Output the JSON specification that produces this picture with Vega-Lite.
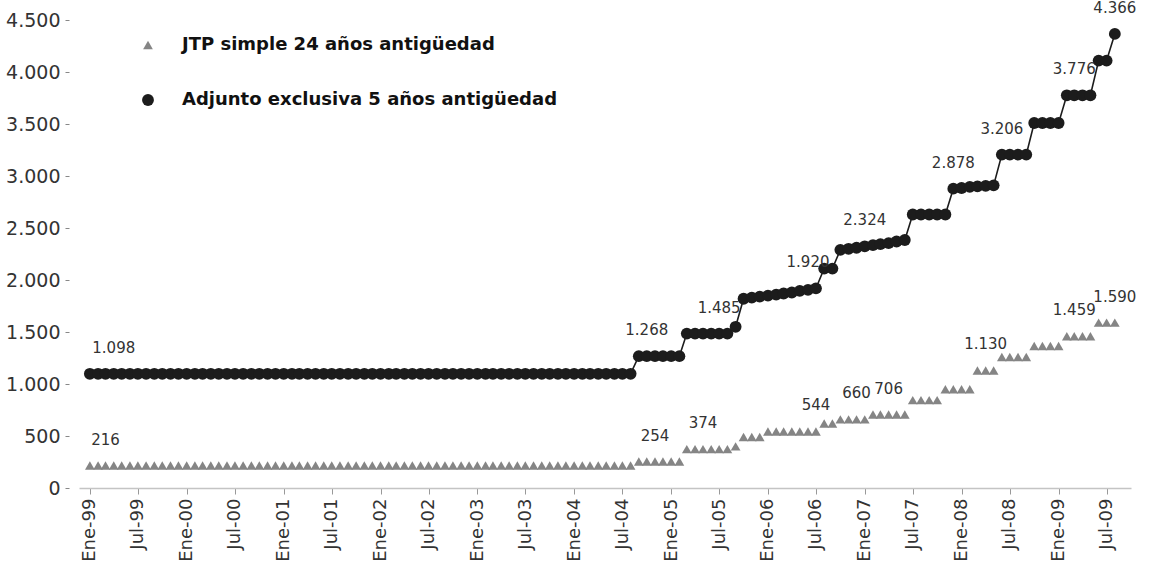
{
  "$schema": "https://vega.github.io/schema/vega-lite/v6.json",
  "width": 1052,
  "height": 468,
  "autosize": {"type": "none"},
  "padding": {"left": 79, "top": 20, "right": 28, "bottom": 87},
  "background": "white",
  "config": {
    "view": {"stroke": null},
    "font": "DejaVu Sans",
    "locale": {
      "number": {"decimal": ",", "thousands": ".", "grouping": [3], "currency": ["$", ""]},
      "time": {
        "dateTime": "%A, %e de %B de %Y, %X",
        "date": "%d/%m/%Y",
        "time": "%H:%M:%S",
        "periods": ["AM", "PM"],
        "days": ["domingo", "lunes", "martes", "miércoles", "jueves", "viernes", "sábado"],
        "shortDays": ["dom", "lun", "mar", "mié", "jue", "vie", "sáb"],
        "months": ["enero", "febrero", "marzo", "abril", "mayo", "junio", "julio", "agosto", "septiembre", "octubre", "noviembre", "diciembre"],
        "shortMonths": ["Ene", "Feb", "Mar", "Abr", "May", "Jun", "Jul", "Ago", "Sep", "Oct", "Nov", "Dic"]
      }
    }
  },
  "datasets": {
    "salarios": [
      {"fecha": "1999-01-01", "jtp": 216, "adj": 1098},
      {"fecha": "1999-02-01", "jtp": 216, "adj": 1098},
      {"fecha": "1999-03-01", "jtp": 216, "adj": 1098},
      {"fecha": "1999-04-01", "jtp": 216, "adj": 1098},
      {"fecha": "1999-05-01", "jtp": 216, "adj": 1098},
      {"fecha": "1999-06-01", "jtp": 216, "adj": 1098},
      {"fecha": "1999-07-01", "jtp": 216, "adj": 1098},
      {"fecha": "1999-08-01", "jtp": 216, "adj": 1098},
      {"fecha": "1999-09-01", "jtp": 216, "adj": 1098},
      {"fecha": "1999-10-01", "jtp": 216, "adj": 1098},
      {"fecha": "1999-11-01", "jtp": 216, "adj": 1098},
      {"fecha": "1999-12-01", "jtp": 216, "adj": 1098},
      {"fecha": "2000-01-01", "jtp": 216, "adj": 1098},
      {"fecha": "2000-02-01", "jtp": 216, "adj": 1098},
      {"fecha": "2000-03-01", "jtp": 216, "adj": 1098},
      {"fecha": "2000-04-01", "jtp": 216, "adj": 1098},
      {"fecha": "2000-05-01", "jtp": 216, "adj": 1098},
      {"fecha": "2000-06-01", "jtp": 216, "adj": 1098},
      {"fecha": "2000-07-01", "jtp": 216, "adj": 1098},
      {"fecha": "2000-08-01", "jtp": 216, "adj": 1098},
      {"fecha": "2000-09-01", "jtp": 216, "adj": 1098},
      {"fecha": "2000-10-01", "jtp": 216, "adj": 1098},
      {"fecha": "2000-11-01", "jtp": 216, "adj": 1098},
      {"fecha": "2000-12-01", "jtp": 216, "adj": 1098},
      {"fecha": "2001-01-01", "jtp": 216, "adj": 1098},
      {"fecha": "2001-02-01", "jtp": 216, "adj": 1098},
      {"fecha": "2001-03-01", "jtp": 216, "adj": 1098},
      {"fecha": "2001-04-01", "jtp": 216, "adj": 1098},
      {"fecha": "2001-05-01", "jtp": 216, "adj": 1098},
      {"fecha": "2001-06-01", "jtp": 216, "adj": 1098},
      {"fecha": "2001-07-01", "jtp": 216, "adj": 1098},
      {"fecha": "2001-08-01", "jtp": 216, "adj": 1098},
      {"fecha": "2001-09-01", "jtp": 216, "adj": 1098},
      {"fecha": "2001-10-01", "jtp": 216, "adj": 1098},
      {"fecha": "2001-11-01", "jtp": 216, "adj": 1098},
      {"fecha": "2001-12-01", "jtp": 216, "adj": 1098},
      {"fecha": "2002-01-01", "jtp": 216, "adj": 1098},
      {"fecha": "2002-02-01", "jtp": 216, "adj": 1098},
      {"fecha": "2002-03-01", "jtp": 216, "adj": 1098},
      {"fecha": "2002-04-01", "jtp": 216, "adj": 1098},
      {"fecha": "2002-05-01", "jtp": 216, "adj": 1098},
      {"fecha": "2002-06-01", "jtp": 216, "adj": 1098},
      {"fecha": "2002-07-01", "jtp": 216, "adj": 1098},
      {"fecha": "2002-08-01", "jtp": 216, "adj": 1098},
      {"fecha": "2002-09-01", "jtp": 216, "adj": 1098},
      {"fecha": "2002-10-01", "jtp": 216, "adj": 1098},
      {"fecha": "2002-11-01", "jtp": 216, "adj": 1098},
      {"fecha": "2002-12-01", "jtp": 216, "adj": 1098},
      {"fecha": "2003-01-01", "jtp": 216, "adj": 1098},
      {"fecha": "2003-02-01", "jtp": 216, "adj": 1098},
      {"fecha": "2003-03-01", "jtp": 216, "adj": 1098},
      {"fecha": "2003-04-01", "jtp": 216, "adj": 1098},
      {"fecha": "2003-05-01", "jtp": 216, "adj": 1098},
      {"fecha": "2003-06-01", "jtp": 216, "adj": 1098},
      {"fecha": "2003-07-01", "jtp": 216, "adj": 1098},
      {"fecha": "2003-08-01", "jtp": 216, "adj": 1098},
      {"fecha": "2003-09-01", "jtp": 216, "adj": 1098},
      {"fecha": "2003-10-01", "jtp": 216, "adj": 1098},
      {"fecha": "2003-11-01", "jtp": 216, "adj": 1098},
      {"fecha": "2003-12-01", "jtp": 216, "adj": 1098},
      {"fecha": "2004-01-01", "jtp": 216, "adj": 1098},
      {"fecha": "2004-02-01", "jtp": 216, "adj": 1098},
      {"fecha": "2004-03-01", "jtp": 216, "adj": 1098},
      {"fecha": "2004-04-01", "jtp": 216, "adj": 1098},
      {"fecha": "2004-05-01", "jtp": 216, "adj": 1098},
      {"fecha": "2004-06-01", "jtp": 216, "adj": 1098},
      {"fecha": "2004-07-01", "jtp": 216, "adj": 1098},
      {"fecha": "2004-08-01", "jtp": 216, "adj": 1098},
      {"fecha": "2004-09-01", "jtp": 254, "adj": 1268},
      {"fecha": "2004-10-01", "jtp": 254, "adj": 1268},
      {"fecha": "2004-11-01", "jtp": 254, "adj": 1268},
      {"fecha": "2004-12-01", "jtp": 254, "adj": 1268},
      {"fecha": "2005-01-01", "jtp": 254, "adj": 1268},
      {"fecha": "2005-02-01", "jtp": 254, "adj": 1268},
      {"fecha": "2005-03-01", "jtp": 374, "adj": 1485},
      {"fecha": "2005-04-01", "jtp": 374, "adj": 1485},
      {"fecha": "2005-05-01", "jtp": 374, "adj": 1485},
      {"fecha": "2005-06-01", "jtp": 374, "adj": 1485},
      {"fecha": "2005-07-01", "jtp": 374, "adj": 1485},
      {"fecha": "2005-08-01", "jtp": 374, "adj": 1485},
      {"fecha": "2005-09-01", "jtp": 400, "adj": 1550},
      {"fecha": "2005-10-01", "jtp": 490, "adj": 1820},
      {"fecha": "2005-11-01", "jtp": 490, "adj": 1830},
      {"fecha": "2005-12-01", "jtp": 490, "adj": 1840},
      {"fecha": "2006-01-01", "jtp": 544, "adj": 1850},
      {"fecha": "2006-02-01", "jtp": 544, "adj": 1860},
      {"fecha": "2006-03-01", "jtp": 544, "adj": 1870},
      {"fecha": "2006-04-01", "jtp": 544, "adj": 1880},
      {"fecha": "2006-05-01", "jtp": 544, "adj": 1895},
      {"fecha": "2006-06-01", "jtp": 544, "adj": 1905},
      {"fecha": "2006-07-01", "jtp": 544, "adj": 1920},
      {"fecha": "2006-08-01", "jtp": 620, "adj": 2110},
      {"fecha": "2006-09-01", "jtp": 620, "adj": 2110},
      {"fecha": "2006-10-01", "jtp": 660, "adj": 2290},
      {"fecha": "2006-11-01", "jtp": 660, "adj": 2300},
      {"fecha": "2006-12-01", "jtp": 660, "adj": 2310},
      {"fecha": "2007-01-01", "jtp": 660, "adj": 2324},
      {"fecha": "2007-02-01", "jtp": 706, "adj": 2335},
      {"fecha": "2007-03-01", "jtp": 706, "adj": 2345},
      {"fecha": "2007-04-01", "jtp": 706, "adj": 2355},
      {"fecha": "2007-05-01", "jtp": 706, "adj": 2370},
      {"fecha": "2007-06-01", "jtp": 706, "adj": 2385},
      {"fecha": "2007-07-01", "jtp": 845, "adj": 2630},
      {"fecha": "2007-08-01", "jtp": 845, "adj": 2630},
      {"fecha": "2007-09-01", "jtp": 845, "adj": 2630},
      {"fecha": "2007-10-01", "jtp": 845, "adj": 2630},
      {"fecha": "2007-11-01", "jtp": 950, "adj": 2630},
      {"fecha": "2007-12-01", "jtp": 950, "adj": 2878},
      {"fecha": "2008-01-01", "jtp": 950, "adj": 2885},
      {"fecha": "2008-02-01", "jtp": 950, "adj": 2895},
      {"fecha": "2008-03-01", "jtp": 1130, "adj": 2900},
      {"fecha": "2008-04-01", "jtp": 1130, "adj": 2905},
      {"fecha": "2008-05-01", "jtp": 1130, "adj": 2910},
      {"fecha": "2008-06-01", "jtp": 1260, "adj": 3206},
      {"fecha": "2008-07-01", "jtp": 1260, "adj": 3206},
      {"fecha": "2008-08-01", "jtp": 1260, "adj": 3206},
      {"fecha": "2008-09-01", "jtp": 1260, "adj": 3206},
      {"fecha": "2008-10-01", "jtp": 1365, "adj": 3510},
      {"fecha": "2008-11-01", "jtp": 1365, "adj": 3510},
      {"fecha": "2008-12-01", "jtp": 1365, "adj": 3510},
      {"fecha": "2009-01-01", "jtp": 1365, "adj": 3510},
      {"fecha": "2009-02-01", "jtp": 1459, "adj": 3776},
      {"fecha": "2009-03-01", "jtp": 1459, "adj": 3776},
      {"fecha": "2009-04-01", "jtp": 1459, "adj": 3776},
      {"fecha": "2009-05-01", "jtp": 1459, "adj": 3776},
      {"fecha": "2009-06-01", "jtp": 1590, "adj": 4110},
      {"fecha": "2009-07-01", "jtp": 1590, "adj": 4110},
      {"fecha": "2009-08-01", "jtp": 1590, "adj": 4366}
    ],
    "etiquetas": [
      {"fecha": "1999-04-01", "valor": 1098},
      {"fecha": "2004-10-01", "valor": 1268},
      {"fecha": "2005-07-01", "valor": 1485},
      {"fecha": "2006-06-01", "valor": 1920},
      {"fecha": "2007-01-01", "valor": 2324},
      {"fecha": "2007-12-01", "valor": 2878},
      {"fecha": "2008-06-01", "valor": 3206},
      {"fecha": "2009-03-01", "valor": 3776},
      {"fecha": "2009-08-01", "valor": 4366},
      {"fecha": "1999-03-01", "valor": 216},
      {"fecha": "2004-11-01", "valor": 254},
      {"fecha": "2005-05-01", "valor": 374},
      {"fecha": "2006-07-01", "valor": 544},
      {"fecha": "2006-12-01", "valor": 660},
      {"fecha": "2007-04-01", "valor": 706},
      {"fecha": "2008-04-01", "valor": 1130},
      {"fecha": "2009-03-01", "valor": 1459},
      {"fecha": "2009-08-01", "valor": 1590}
    ]
  },
  "encoding": {
    "x": {
      "field": "fecha",
      "type": "temporal",
      "scale": {
        "type": "utc",
        "domain": [
          {"year": 1998, "month": 11, "date": 21, "utc": true},
          {"year": 2009, "month": 10, "date": 1, "utc": true}
        ]
      },
      "axis": {
        "title": null,
        "format": "%b-%y",
        "tickCount": {"interval": "month", "step": 6},
        "labelAngle": -90,
        "labelFontSize": 18,
        "labelColor": "#333333",
        "labelPadding": 4,
        "labelOverlap": false,
        "labelFlush": false,
        "labelBound": false,
        "domainColor": "#c4c4c4",
        "domainWidth": 1.5,
        "tickColor": "#999999",
        "tickSize": 6,
        "grid": false
      }
    }
  },
  "layer": [
    {
      "data": {"name": "salarios"},
      "transform": [
        {"fold": ["jtp", "adj"], "as": ["serie", "valor"]},
        {"filter": "datum.serie == 'adj'"}
      ],
      "mark": {"type": "line", "color": "#1c1c1c", "strokeWidth": 1.6},
      "encoding": {
        "y": {
          "field": "valor",
          "type": "quantitative",
          "scale": {"domain": [0, 4500], "nice": false},
          "axis": {
            "title": null,
            "format": ",d",
            "values": [0, 500, 1000, 1500, 2000, 2500, 3000, 3500, 4000, 4500],
            "domain": false,
            "grid": false,
            "tickSize": 4,
            "tickColor": "#888888",
            "labelFontSize": 19,
            "labelColor": "#333333",
            "labelPadding": 5,
            "offset": 10
          }
        }
      }
    },
    {
      "data": {"name": "salarios"},
      "transform": [
        {"fold": ["jtp", "adj"], "as": ["serie", "valor"]}
      ],
      "mark": {"type": "point", "filled": true, "opacity": 1},
      "encoding": {
        "y": {"field": "valor", "type": "quantitative"},
        "color": {
          "field": "serie",
          "type": "nominal",
          "scale": {"domain": ["jtp", "adj"], "range": ["#858585", "#1c1c1c"]},
          "legend": {
            "title": null,
            "orient": "none",
            "legendX": 60,
            "legendY": 16,
            "direction": "vertical",
            "labelFontSize": 18,
            "labelFontWeight": "bold",
            "labelColor": "#111111",
            "labelLimit": 0,
            "labelOffset": 25,
            "rowPadding": 37,
            "symbolSize": 100,
            "labelExpr": "datum.value == 'jtp' ? 'JTP simple 24 años antigüedad' : 'Adjunto exclusiva 5 años antigüedad'"
          }
        },
        "shape": {
          "field": "serie",
          "type": "nominal",
          "scale": {"domain": ["jtp", "adj"], "range": ["triangle-up", "circle"]}
        },
        "size": {
          "field": "serie",
          "type": "nominal",
          "scale": {"domain": ["jtp", "adj"], "range": [95, 140]},
          "legend": null
        }
      }
    },
    {
      "data": {"name": "etiquetas"},
      "mark": {"type": "text", "dy": -26, "fontSize": 15, "color": "#333333", "baseline": "middle"},
      "encoding": {
        "y": {"field": "valor", "type": "quantitative"},
        "text": {"field": "valor", "type": "quantitative", "format": ",d"}
      }
    }
  ]
}
